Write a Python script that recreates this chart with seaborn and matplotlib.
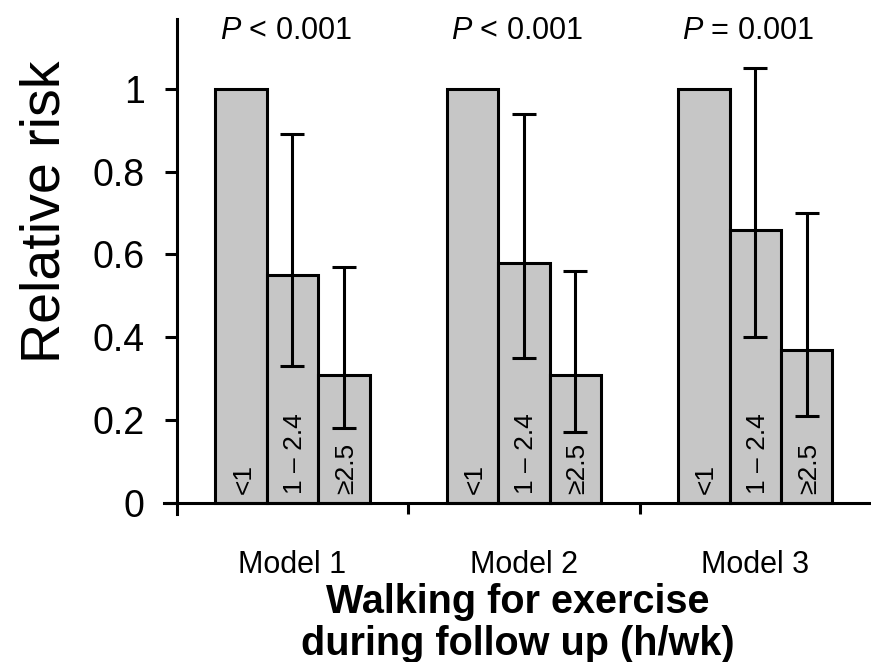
import matplotlib
matplotlib.use("Agg")
import matplotlib.pyplot as plt
import seaborn as sns
import pandas as pd
import numpy as np

# Relative risk of the outcome by walking time, three adjustment models
models = ["Model 1", "Model 2", "Model 3"]
walk_groups = ["<1", "1 \u2013 2.4", "\u22652.5"]
rr_model1 = [1.0, 0.55, 0.31]
rr_model2 = [1.0, 0.58, 0.31]
rr_model3 = [1.0, 0.66, 0.37]
ci_low_model1 = [np.nan, 0.33, 0.18]
ci_low_model2 = [np.nan, 0.35, 0.17]
ci_low_model3 = [np.nan, 0.40, 0.21]
ci_high_model1 = [np.nan, 0.89, 0.57]
ci_high_model2 = [np.nan, 0.94, 0.56]
ci_high_model3 = [np.nan, 1.05, 0.70]
p_labels = ["< 0.001", "< 0.001", "= 0.001"]
y_ticks = [0, 0.2, 0.4, 0.6, 0.8, 1]
y_tick_labels = ["0", "0.2", "0.4", "0.6", "0.8", "1"]

rr = [rr_model1, rr_model2, rr_model3]
lo = [ci_low_model1, ci_low_model2, ci_low_model3]
hi = [ci_high_model1, ci_high_model2, ci_high_model3]

rows = []
for m, name in enumerate(models):
    for g, grp in enumerate(walk_groups):
        rows.append({"model": name, "group": grp, "rr": rr[m][g],
                     "lo": lo[m][g], "hi": hi[m][g]})
df = pd.DataFrame(rows)

sns.set_theme(style="white")
plt.rcParams["font.family"] = ["Liberation Sans", "DejaVu Sans"]
plt.rcParams["mathtext.fontset"] = "custom"
plt.rcParams["mathtext.it"] = "Liberation Sans:italic"
plt.rcParams["mathtext.rm"] = "Liberation Sans"

fig = plt.figure(figsize=(8.71, 6.62), dpi=100)
ax = fig.add_axes([0.1883, 0.2236, 0.8117, 0.7483])

bar_gray = "#c6c6c6"
sns.barplot(data=df, x="model", y="rr", hue="group", hue_order=walk_groups,
            order=models, palette=[bar_gray] * 3, width=0.667,
            edgecolor="black", linewidth=2.2, errorbar=None, legend=False,
            saturation=1, ax=ax)

# confidence intervals and in-bar group labels
bar_containers = list(ax.containers)
for g, container in enumerate(bar_containers):
    for m, bar in enumerate(container.patches):
        xc = bar.get_x() + bar.get_width() / 2
        row = df[(df.model == models[m]) & (df.group == walk_groups[g])].iloc[0]
        if not np.isnan(row.lo):
            ax.errorbar(xc, row.rr, yerr=[[row.rr - row.lo], [row.hi - row.rr]],
                        fmt="none", ecolor="black", elinewidth=2.2,
                        capsize=8.6, capthick=2.2, zorder=5)
        ax.text(xc + 0.01, 0.022, walk_groups[g], rotation=90, ha="center",
                va="bottom", fontsize=19, color="black", zorder=6)

# P for trend above each model
for m, p in enumerate(p_labels):
    ax.text(m - 0.03, 1.14, r"$\it{P}$ " + p, ha="center", va="center",
            fontsize=22, color="black")

ax.set_xlim(-0.555, 2.5)
ax.set_ylim(-0.027, 1.17)
ax.set_yticks(y_ticks)
ax.set_yticklabels(y_tick_labels)
ax.set_xticks([0, 1, 2])
ax.set_xticklabels(models)
ax.set_xticks([0.5, 1.5], minor=True)

for side in ["top", "right"]:
    ax.spines[side].set_visible(False)
ax.spines["left"].set_position(("data", -0.5))
ax.spines["bottom"].set_position(("data", 0))
for side in ["left", "bottom"]:
    ax.spines[side].set_linewidth(2.2)
    ax.spines[side].set_color("black")

ax.tick_params(axis="y", which="major", direction="out", length=9, width=2.2,
               labelsize=27, pad=14, left=True, colors="black")
ax.tick_params(axis="x", which="major", length=0, labelsize=22, pad=34,
               colors="black")
ax.tick_params(axis="x", which="minor", direction="out", length=8, width=2.2,
               bottom=True, colors="black")

ax.set_ylabel("Relative risk", fontsize=40, va="center", color="black")
ax.yaxis.set_label_coords(-0.168, 0.61)
ax.set_xlabel("Walking for exercise\nduring follow up (h/wk)", fontsize=28.5,
              fontweight="bold", linespacing=1.12, va="top", color="black")
ax.xaxis.set_label_coords(0.5, -0.14)

fig.savefig("out.png", dpi=100, facecolor="white")
